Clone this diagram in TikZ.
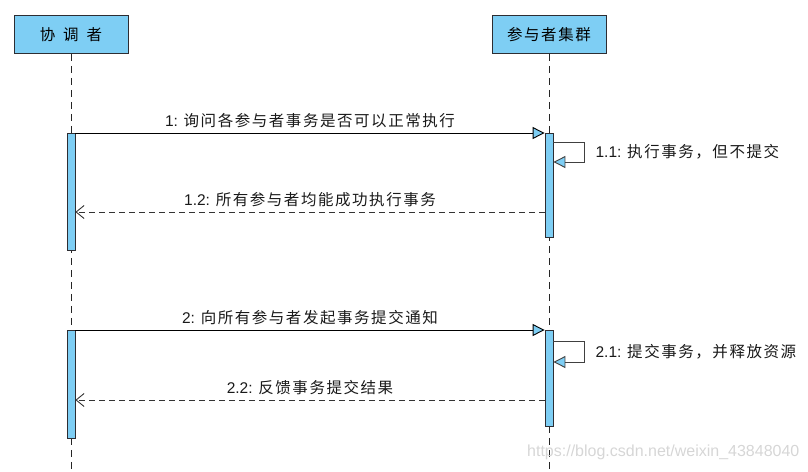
\documentclass[tikz,border=0pt]{standalone}
\usepackage{fontspec}
\setmainfont{Liberation Sans}
\newfontfamily\cjk[LetterSpace=10]{Noto Sans CJK SC}
\usetikzlibrary{arrows.meta,calc}
\definecolor{actfill}{RGB}{126,206,244}
\definecolor{edgec}{RGB}{45,45,50}
\tikzset{
  head/.style={draw=edgec, fill=actfill, line width=0.9pt, minimum width=114pt, minimum height=38pt, inner sep=0pt, font=\fontsize{15.5}{17}\selectfont},
  actbar/.style={draw=edgec, fill=actfill, line width=0.8pt, minimum width=8pt, inner sep=0pt, anchor=north},
  lifeline/.style={draw=black!85, line width=0.8pt, dash pattern=on 7pt off 5pt},
  callmsg/.style={draw=black, line width=0.9pt, -{Triangle[length=12pt,width=12pt,fill=actfill]}},
  selfmsg/.style={draw=black!75, line width=0.9pt, -{Triangle[length=12pt,width=12pt,fill=actfill]}},
  retmsg/.style={draw=black!80, line width=0.9pt, dash pattern=on 6pt off 4pt, -{Straight Barb[length=8pt,width=13pt]}},
  lbl/.style={font=\fontsize{15.5}{17}\selectfont, text=black!90, inner sep=0pt}
}
\begin{document}
\begin{tikzpicture}[x=1pt,y=-1pt]
\useasboundingbox (0,0) rectangle (808,471);
% headers
\node[head] (A) at (71,34.5) {\cjk 协\hspace{8pt}调\hspace{8pt}者};
\node[head] (B) at (549,34.5) {\cjk 参与者集群};
\coordinate (Aend) at (71,471);
\coordinate (Bend) at (549,471);
\draw[lifeline] (A.south) -- (Aend);
\draw[lifeline] (B.south) -- (Bend);
% watermark
\node[anchor=west, text=black!16, font=\fontsize{16}{18}\selectfont, inner sep=0pt] (wm) at (527,452) {https://blog.csdn.net/weixin\_43848040};
% activation bars
\node[actbar, minimum height=117pt] (a1) at (71,133) {};
\node[actbar, minimum height=104pt] (b1) at (549,133) {};
\node[actbar, minimum height=108pt] (a2) at (71,330) {};
\node[actbar, minimum height=96pt] (b2) at (549,330) {};
% phase 1
\draw[callmsg] (a1.north east) -- (b1.north west)
  node[lbl, midway, above=5pt] {1: {\cjk 询问各参与者事务是否可以正常执行}};
\draw[selfmsg] ($(b1.north east)+(0,9)$) -- ++(31,0) coordinate (s1a) -- ++(0,20) coordinate (s1b) -- (s1b -| b1.east);
\node[lbl, anchor=west] (l11) at ($(s1a)!0.5!(s1b)+(11,0)$) {1.1: {\cjk 执行事务，但不提交}};
\draw[retmsg] ($(b1.north west)+(0,79)$) -- ($(a1.north east)+(0,79)$)
  node[lbl, midway, above=5pt] {1.2: {\cjk 所有参与者均能成功执行事务}};
% phase 2
\draw[callmsg] (a2.north east) -- (b2.north west)
  node[lbl, midway, above=5pt] {2: {\cjk 向所有参与者发起事务提交通知}};
\draw[selfmsg] ($(b2.north east)+(0,11)$) -- ++(31,0) coordinate (s2a) -- ++(0,21) coordinate (s2b) -- (s2b -| b2.east);
\node[lbl, anchor=west] (l21) at ($(s2a)!0.5!(s2b)+(11,0)$) {2.1: {\cjk 提交事务，并释放资源}};
\draw[retmsg] ($(b2.north west)+(0,70)$) -- ($(a2.north east)+(0,70)$)
  node[lbl, midway, above=5pt] {2.2: {\cjk 反馈事务提交结果}};
\end{tikzpicture}
\end{document}
